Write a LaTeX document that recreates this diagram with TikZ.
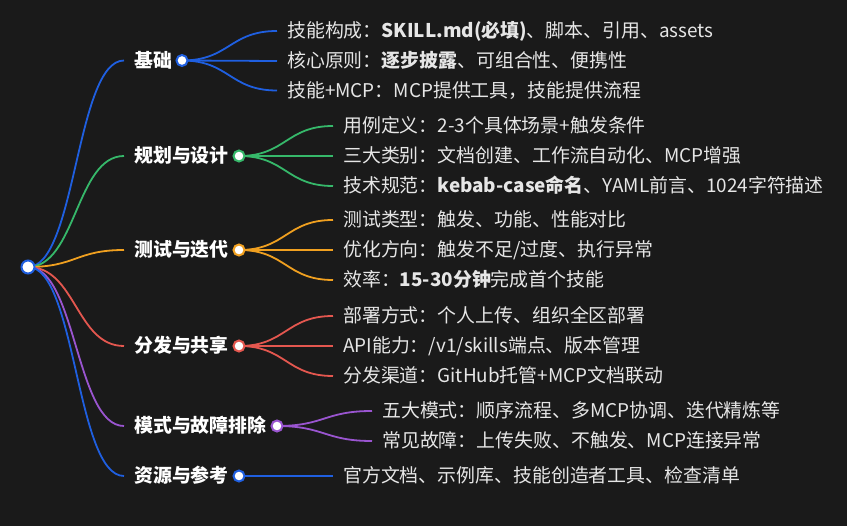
\documentclass[tikz,border=0pt]{standalone}
\usepackage{fontspec}
\setmainfont{Noto Sans CJK SC}
\usetikzlibrary{backgrounds,calc}
\definecolor{bgc}{HTML}{1A1A1A}
\definecolor{txt}{HTML}{E6E6E6}
\definecolor{cblue}{HTML}{1F5FE0}
\definecolor{cgreen}{HTML}{36B86A}
\definecolor{corange}{HTML}{F0A020}
\definecolor{cred}{HTML}{E4574F}
\definecolor{cpurple}{HTML}{9A55D0}
\tikzset{
  lbl/.style={anchor=west,inner ysep=0pt,inner xsep=10pt,text=txt,font=\fontsize{18.9}{20}\selectfont,text height=16pt,text depth=2pt},
  brl/.style={lbl,font=\fontsize{18.9}{20}\selectfont\bfseries,text=white},
  dot/.style={circle,fill=white,draw=#1,line width=2pt,inner sep=0pt,minimum size=11pt},
  link/.style={draw=#1,line width=1.8pt},
}
\newcommand{\mmlink}[3]{%
  \path[link=#1] let \p1=(#2), \p2=(#3) in (\p1) .. controls ({(\x1+\x2)/2},\y1) and ({(\x1+\x2)/2},\y2) .. (\p2);}
\begin{document}
\begin{tikzpicture}[x=1pt,y=-1pt]
\useasboundingbox (0,0) rectangle (847,526);
% root
\node[dot=cblue,minimum size=13pt] (root) at (28,267) {};
% branches
\node[brl] (b1) at (124,60.5) {基础};
\node[dot=cblue] (d1) at (182,60.5) {};
\node[brl] (b2) at (124,156) {规划与设计};
\node[dot=cgreen] (d2) at (239,156) {};
\node[brl] (b3) at (124,250) {测试与迭代};
\node[dot=corange] (d3) at (239,250) {};
\node[brl] (b4) at (124,346) {分发与共享};
\node[dot=cred] (d4) at (239,346) {};
\node[brl] (b5) at (124,426) {模式与故障排除};
\node[dot=cpurple] (d5) at (277,426) {};
\node[brl] (b6) at (124,476) {资源与参考};
\node[dot=cblue] (d6) at (239,476) {};
% leaves
\node[lbl] (l11) at (277,31) {技能构成：\textbf{SKILL.md(必填)}、脚本、引用、assets};
\node[lbl] (l12) at (277,61) {核心原则：\textbf{逐步披露}、可组合性、便携性};
\node[lbl] (l13) at (277,90.5) {技能+MCP：MCP提供工具，技能提供流程};
\node[lbl] (l21) at (333,126) {用例定义：2-3个具体场景+触发条件};
\node[lbl] (l22) at (333,156) {三大类别：文档创建、工作流自动化、MCP增强};
\node[lbl] (l23) at (333,186) {技术规范：\textbf{kebab-case命名}、YAML前言、1024字符描述};
\node[lbl] (l31) at (333,220) {测试类型：触发、功能、性能对比};
\node[lbl] (l32) at (333,250) {优化方向：触发不足/过度、执行异常};
\node[lbl] (l33) at (333,280) {效率：\textbf{15-30分钟}完成首个技能};
\node[lbl] (l41) at (333,316) {部署方式：个人上传、组织全区部署};
\node[lbl] (l42) at (333,346) {API能力：/v1/skills端点、版本管理};
\node[lbl] (l43) at (333,376) {分发渠道：GitHub托管+MCP文档联动};
\node[lbl] (l51) at (372,411) {五大模式：顺序流程、多MCP协调、迭代精炼等};
\node[lbl] (l52) at (372,441) {常见故障：上传失败、不触发、MCP连接异常};
\node[lbl] (l61) at (333,476) {官方文档、示例库、技能创造者工具、检查清单};
\begin{scope}[on background layer]
\fill[bgc] (0,0) rectangle (847,526);
\mmlink{cblue}{root.center}{b1.west}
\mmlink{cgreen}{root.center}{b2.west}
\mmlink{corange}{root.center}{b3.west}
\mmlink{cred}{root.center}{b4.west}
\mmlink{cpurple}{root.center}{b5.west}
\mmlink{cblue}{root.center}{b6.west}
\mmlink{cblue}{d1.center}{l11.west}
\mmlink{cblue}{d1.center}{l12.west}
\mmlink{cblue}{d1.center}{l13.west}
\mmlink{cgreen}{d2.center}{l21.west}
\mmlink{cgreen}{d2.center}{l22.west}
\mmlink{cgreen}{d2.center}{l23.west}
\mmlink{corange}{d3.center}{l31.west}
\mmlink{corange}{d3.center}{l32.west}
\mmlink{corange}{d3.center}{l33.west}
\mmlink{cred}{d4.center}{l41.west}
\mmlink{cred}{d4.center}{l42.west}
\mmlink{cred}{d4.center}{l43.west}
\mmlink{cpurple}{d5.center}{l51.west}
\mmlink{cpurple}{d5.center}{l52.west}
\mmlink{cblue}{d6.center}{l61.west}
\end{scope}
\end{tikzpicture}
\end{document}
